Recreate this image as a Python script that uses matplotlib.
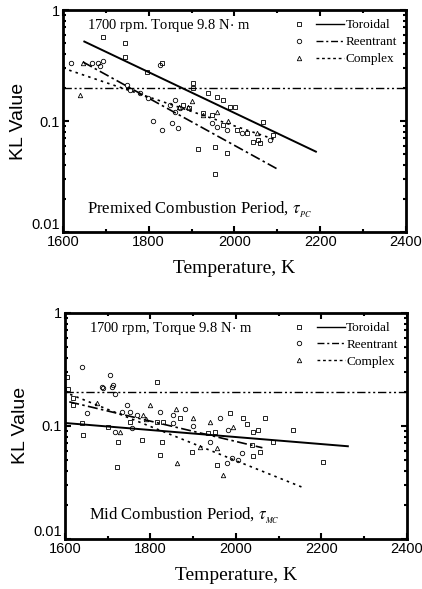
import matplotlib.pyplot as plt
from matplotlib.lines import Line2D
from matplotlib.legend_handler import HandlerTuple
from matplotlib.ticker import FixedLocator, MultipleLocator, NullFormatter

plt.rcParams['mathtext.fontset'] = 'stix'

# ---- data ----
# top panel: premixed combustion period
top_sq_T = [1693, 1745, 1745, 1796, 1831, 1903, 1903, 1938, 1959, 1974, 1990, 2001, 1927, 1947,
            1973, 2005, 2029, 2043, 2059, 2066, 2055, 2090, 1915, 1955, 1982, 1955, 1880, 1895]
top_sq_v = [0.57, 0.50, 0.38, 0.276, 0.33, 0.22, 0.20, 0.18, 0.165, 0.155, 0.134, 0.134, 0.118, 0.113,
            0.092, 0.083, 0.078, 0.065, 0.063, 0.098, 0.067, 0.075, 0.056, 0.058, 0.052, 0.033, 0.14, 0.13]
top_ci_T = [1668, 1682, 1693, 1686, 1749, 1756, 1780, 1798, 1826, 1850, 1861, 1873, 1861, 1810,
            1854, 1831, 1868, 1959, 1982, 2017, 1947, 2083, 1620]
top_ci_v = [0.33, 0.33, 0.35, 0.31, 0.21, 0.19, 0.18, 0.16, 0.32, 0.14, 0.155, 0.13, 0.12, 0.10,
            0.096, 0.083, 0.087, 0.089, 0.083, 0.078, 0.096, 0.067, 0.33]
top_tr_T = [1640, 1647, 1901, 1892, 1870, 1927, 2052, 1985, 1960]
top_tr_v = [0.17, 0.33, 0.15, 0.135, 0.135, 0.113, 0.078, 0.10, 0.12]

top_tor_T = [1650, 2190]
top_tor_v = [0.52, 0.053]
top_ree_T = [1647, 2100]
top_ree_v = [0.34, 0.037]
top_com_T = [1600, 2100]
top_com_v = [0.30, 0.067]

# bottom panel: mid combustion period
bot_sq_T = [1605, 1607, 1619, 1619, 1815, 1752, 1815, 1829, 1869, 1642, 1780, 1724, 1827, 1822,
            1722, 1897, 1955, 1986, 1935, 1951, 2016, 2026, 2040, 2051, 2037, 2056, 2040, 2068,
            2087, 2133, 2203, 1640, 1700]
bot_sq_v = [0.27, 0.21, 0.177, 0.153, 0.245, 0.108, 0.108, 0.108, 0.118, 0.083, 0.075, 0.072, 0.072, 0.055,
            0.043, 0.059, 0.045, 0.13, 0.086, 0.088, 0.118, 0.103, 0.088, 0.092, 0.068, 0.059, 0.054, 0.118,
            0.072, 0.092, 0.048, 0.105, 0.098]
bot_ci_T = [1640, 1705, 1689, 1710, 1651, 1686, 1712, 1717, 1745, 1733, 1752, 1768, 1822, 1853,
            1853, 1717, 1757, 1939, 1979, 1962, 1981, 2014, 1991, 2005, 1880, 1900]
bot_ci_v = [0.33, 0.28, 0.217, 0.22, 0.13, 0.22, 0.23, 0.19, 0.153, 0.133, 0.133, 0.125, 0.133, 0.125,
            0.106, 0.088, 0.096, 0.072, 0.047, 0.118, 0.092, 0.058, 0.052, 0.05, 0.14, 0.10]
bot_tr_T = [1675, 1782, 1799, 1899, 1729, 1862, 1916, 1955, 1970, 1939, 1993, 1860, 1790]
bot_tr_v = [0.16, 0.125, 0.153, 0.118, 0.088, 0.047, 0.065, 0.064, 0.037, 0.108, 0.098, 0.14, 0.115]

bot_tor_T = [1600, 2262]
bot_tor_v = [0.106, 0.066]
bot_ree_T = [1610, 2062]
bot_ree_v = [0.163, 0.064]
bot_com_T = [1612, 2162]
bot_com_v = [0.19, 0.028]

ref_level = 0.2

serif = 'Liberation Serif'
sans = 'Liberation Sans'

fig = plt.figure(figsize=(4.22, 5.89), dpi=100)

panels = [
    dict(pos=[0.149, 0.606, 0.813, 0.377], sq=(top_sq_T, top_sq_v), ci=(top_ci_T, top_ci_v),
         tr=(top_tr_T, top_tr_v), tor=(top_tor_T, top_tor_v), ree=(top_ree_T, top_ree_v),
         com=(top_com_T, top_com_v), head='1700 rpm. Torque 9.8 N$\\cdot$ m',
         note='Premixed Combustion Period, $\\tau_{_{PC}}$'),
    dict(pos=[0.154, 0.085, 0.810, 0.384], sq=(bot_sq_T, bot_sq_v), ci=(bot_ci_T, bot_ci_v),
         tr=(bot_tr_T, bot_tr_v), tor=(bot_tor_T, bot_tor_v), ree=(bot_ree_T, bot_ree_v),
         com=(bot_com_T, bot_com_v), head='1700 rpm, Torque 9.8 N$\\cdot$ m',
         note='Mid Combustion Period, $\\tau_{_{MC}}$'),
]

mk = dict(linestyle='none', markerfacecolor='none', markeredgecolor='black', markersize=3.2,
          markeredgewidth=0.6)

for p in panels:
    ax = fig.add_axes(p['pos'])
    ax.set_yscale('log')
    ax.set_xlim(1600, 2400)
    ax.set_ylim(0.01, 1)

    ax.plot(*p['sq'], marker='s', **mk)
    ax.plot(*p['ci'], marker='o', **mk)
    ax.plot(*p['tr'], marker='^', **mk)

    ax.plot(*p['tor'], color='black', lw=1.4)
    ax.plot(*p['ree'], color='black', lw=1.2, linestyle=(0, (6, 2, 1.5, 2)))
    ax.plot(*p['com'], color='black', lw=1.2, linestyle=(0, (1.5, 2.5)))
    ax.axhline(ref_level, color='black', lw=1.0, linestyle=(0, (6, 2, 1.5, 2, 1.5, 2)))

    h_sq = Line2D([], [], marker='s', **mk)
    h_ci = Line2D([], [], marker='o', **mk)
    h_tr = Line2D([], [], marker='^', **mk)
    l_tor = Line2D([], [], color='black', lw=1.0)
    l_ree = Line2D([], [], color='black', lw=1.0, linestyle=(0, (5, 2, 1.5, 2)))
    l_com = Line2D([], [], color='black', lw=1.0, linestyle=(0, (2, 2)))
    ax.legend([(h_sq, l_tor), (h_ci, l_ree), (h_tr, l_com)], ['Toroidal', 'Reentrant', 'Complex'],
              handler_map={tuple: HandlerTuple(ndivide=None, pad=0.3)},
              loc='upper right', frameon=False, handlelength=4.5, handletextpad=0.1,
              labelspacing=0.35, borderaxespad=0.3, prop={'family': serif, 'size': 9.5})

    ax.text(0.07, 0.93, p['head'], transform=ax.transAxes, family=serif, fontsize=10.5,
            va='center', ha='left')
    ax.text(0.07, 0.10, p['note'], transform=ax.transAxes, family=serif, fontsize=12,
            va='center', ha='left')

    ax.xaxis.set_major_locator(MultipleLocator(200))
    ax.xaxis.set_minor_locator(MultipleLocator(100))
    ax.yaxis.set_major_locator(FixedLocator([0.01, 0.1, 1]))
    ax.set_yticklabels(['0.01', '0.1', '1'])
    ax.yaxis.set_minor_formatter(NullFormatter())
    ax.tick_params(which='both', direction='in', top=True, right=True, width=1.5)
    ax.tick_params(which='major', length=4, labelsize=10.5, pad=2)
    ax.tick_params(which='minor', length=2.5)
    ax.yaxis.get_majorticklabels()[0].set_verticalalignment('bottom')
    for t in ax.get_xticklabels() + ax.get_yticklabels():
        t.set_family(sans)
    for s in ax.spines.values():
        s.set_linewidth(2)

    ax.set_xlabel('Temperature, K', family=serif, fontsize=14, labelpad=8)
    ax.set_ylabel('KL Value', family=sans, fontsize=14, labelpad=3)

fig.savefig('out.png', dpi=100)
